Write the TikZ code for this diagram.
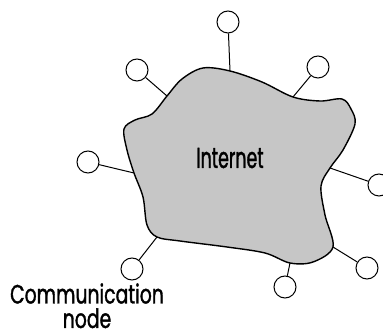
\documentclass[tikz,border=0pt]{standalone}
\usepackage{fontspec}
\setmainfont{Poppins}
\newfontfamily\capfont{Poppins}[FakeStretch=0.71,FakeBold=1.2]
\newfontfamily\netfont{Poppins}[FakeStretch=0.6,FakeBold=1.2]
\begin{document}
\begin{tikzpicture}[x=1pt,y=-1pt,
  host/.style={circle,draw,line width=1pt,minimum size=22pt,inner sep=0pt,fill=white},
  link/.style={line width=1pt},
  cloud/.style={line width=1.4pt,fill=gray!45},
  lbl/.style={font=\capfont\fontsize{26.5}{24.5}\selectfont,align=center,inner sep=0pt}]
\useasboundingbox (0,0) rectangle (383,336);

% attachment points on the cloud outline
\coordinate (pUL) at (167,96);
\coordinate (pT)  at (230,71);
\coordinate (pUR) at (293,97);
\coordinate (pR)  at (330,168);
\coordinate (pLR) at (333,247);
\coordinate (pLM) at (290,263);
\coordinate (pLL) at (157,237);
\coordinate (pL)  at (134,173);

% the network cloud
\draw[cloud] plot[smooth cycle,tension=0.55] coordinates {
  (pUL) (182,79) (203,68) (pT) (262,82) (pUR) (320,101) (342,99)
  (351,109) (355,124) (343,150) (pR) (321,186) (325,215) (pLR)
  (313,262) (pLM) (265,253) (227,247) (180,241) (pLL) (147,225)
  (143,197) (pL) (127,150) (124,129) (135,120) (152,114)};

\node[font=\netfont\fontsize{29}{30}\selectfont,inner sep=0pt,anchor=base]
  (net) at (230,168) {Internet};

% hosts around the cloud
\node[host] (hT)  at (228,22) {};
\node[host] (hUL) at (137,70) {};
\node[host] (hUR) at (318,67) {};
\node[host] (hL)  at (88,162) {};
\node[host] (hR)  at (379,185) {};
\node[host] (hLL) at (132,269) {};
\node[host] (hLM) at (285,287) {};
\node[host] (hLR) at (367,268) {};

\draw[link] (hT)  -- (pT);
\draw[link] (hUL) -- (pUL);
\draw[link] (hUR) -- (pUR);
\draw[link] (hL)  -- (pL);
\draw[link] (hR)  -- (pR);
\draw[link] (hLL) -- (pLL);
\draw[link] (hLM) -- (pLM);
\draw[link] (hLR) -- (pLR);

\node[lbl,anchor=base] (cap) at (87,328) {Communication\\node};
\end{tikzpicture}
\end{document}
